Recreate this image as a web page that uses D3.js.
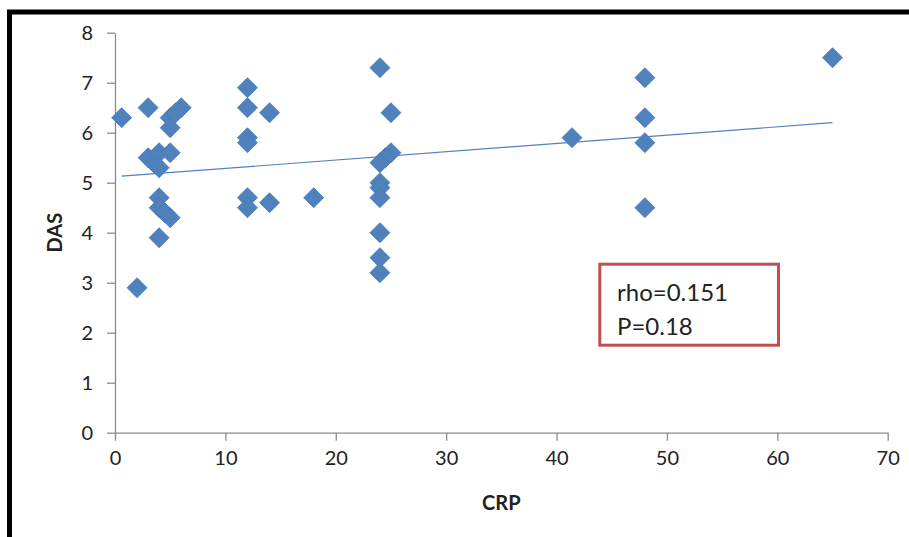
<!DOCTYPE html>
<html>
<head>
<meta charset="utf-8">
<script src="https://cdn.jsdelivr.net/npm/d3@7"></script>
<style>
  html, body { margin: 0; padding: 0; background: #fff; }
  svg { display: block; }
</style>
</head>
<body>
<div id="chart"></div>
<script>
// CRP vs DAS
const crp = [0.6, 2, 3, 3, 3.5, 4, 4, 4, 4, 4, 4.5, 5, 5, 5, 5, 5.5, 6,
  12, 12, 12, 12, 12, 12, 14, 14, 18,
  24, 25, 25, 24.5, 24, 24, 24, 24, 24, 24, 24,
  41.4, 48, 48, 48, 48, 65];
const das = [6.3, 2.9, 6.5, 5.5, 5.4, 5.6, 5.3, 4.7, 4.5, 3.9, 4.4, 5.6, 6.3, 6.1, 4.3, 6.4, 6.5,
  6.9, 6.5, 5.9, 5.8, 4.7, 4.5, 6.4, 4.6, 4.7,
  7.3, 6.4, 5.6, 5.5, 5.4, 5.0, 4.9, 4.7, 4.0, 3.5, 3.2,
  5.9, 7.1, 6.3, 5.8, 4.5, 7.5];
const trendX = [0.6, 65];
const trendY = [5.13, 6.2];
const xTicks = [0, 10, 20, 30, 40, 50, 60, 70];
const yTicks = [0, 1, 2, 3, 4, 5, 6, 7, 8];
const statLines = ["rho=0.151", "P=0.18"];

const width = 909;
const height = 537;
const font = "Lato, 'Open Sans', sans-serif";
const blue = "#4f81bd";
const axisGrey = "#8c8c8c";

const svg = d3.select("#chart").append("svg")
    .attr("width", width)
    .attr("height", height);

// black frame, cut off at right and bottom
svg.append("rect")
    .attr("x", 9.5).attr("y", 12)
    .attr("width", 1000).attr("height", 1000)
    .attr("fill", "none")
    .attr("stroke", "#000")
    .attr("stroke-width", 5);

const x = d3.scaleLinear().domain([0, 70]).range([115, 887.7]);
const y = d3.scaleLinear().domain([0, 8]).range([432.7, 32.7]);

const xAxis = svg.append("g")
    .attr("transform", `translate(0,${y(0)})`)
    .call(d3.axisBottom(x).tickValues(xTicks).tickSize(8).tickPadding(10).tickSizeOuter(0));
const yAxis = svg.append("g")
    .attr("transform", `translate(${x(0)},0)`)
    .call(d3.axisLeft(y).tickValues(yTicks).tickSize(8).tickPadding(14).tickSizeOuter(0));

[xAxis, yAxis].forEach(a => {
    a.select(".domain").attr("stroke", axisGrey).attr("stroke-width", 1.3);
    a.selectAll(".tick line").attr("stroke", axisGrey).attr("stroke-width", 1.3);
    a.selectAll(".tick text")
        .attr("fill", "#222")
        .style("font-family", font)
        .style("font-size", "20px");
});

// axis titles
svg.append("text")
    .attr("x", (x(0) + x(70)) / 2)
    .attr("y", 510)
    .attr("text-anchor", "middle")
    .style("font-family", font)
    .style("font-size", "20px")
    .style("font-weight", "bold")
    .attr("fill", "#222")
    .text("CRP");

svg.append("text")
    .attr("transform", `translate(62,${y(4)}) rotate(-90)`)
    .attr("text-anchor", "middle")
    .style("font-family", font)
    .style("font-size", "20px")
    .style("font-weight", "bold")
    .attr("fill", "#222")
    .text("DAS");

// trend line
svg.append("line")
    .attr("x1", x(trendX[0])).attr("y1", y(trendY[0]))
    .attr("x2", x(trendX[1])).attr("y2", y(trendY[1]))
    .attr("stroke", blue)
    .attr("stroke-width", 1.2);

// diamond markers
const diamond = "M0,-10L10,0L0,10L-10,0Z";
svg.append("g")
    .selectAll("path")
    .data(crp.map((c, i) => ({ c, d: das[i] })))
    .join("path")
    .attr("d", diamond)
    .attr("transform", p => `translate(${x(p.c)},${y(p.d)})`)
    .attr("fill", blue)
    .attr("stroke", "#4a7ab5")
    .attr("stroke-width", 0.8);

// stats box
const box = svg.append("g");
box.append("rect")
    .attr("x", 599.8).attr("y", 264.2)
    .attr("width", 178.7).attr("height", 81)
    .attr("fill", "#fff")
    .attr("stroke", "#c0504d")
    .attr("stroke-width", 3);

box.selectAll("text")
    .data(statLines)
    .join("text")
    .attr("x", 617)
    .attr("y", (d, i) => 301 + i * 34)
    .style("font-family", font)
    .style("font-size", "24px")
    .attr("fill", "#222")
    .text(d => d);
</script>
</body>
</html>
